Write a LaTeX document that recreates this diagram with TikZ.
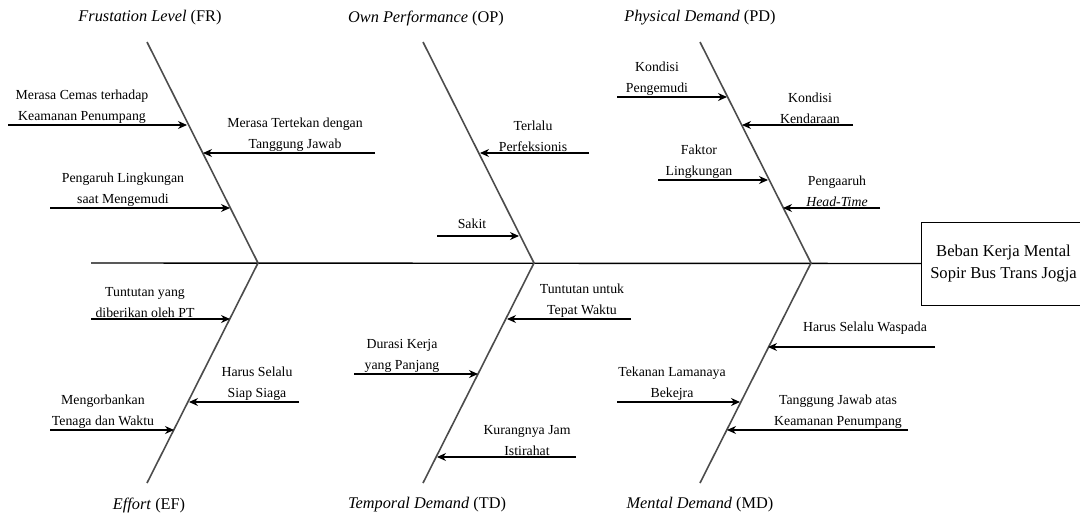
\documentclass[tikz,border=0pt]{standalone}
\usepackage{fontspec}
\setmainfont{Liberation Serif}
\usetikzlibrary{arrows.meta}
\begin{document}
\begin{tikzpicture}
  [x=1pt,y=-1pt,
   every node/.style={inner sep=0pt,align=center,font=\fontsize{13.8}{21}\selectfont},
   bone/.style={line width=1.6pt,black!70},
   cause/.style={line width=1.1pt,-{Stealth[length=9pt,width=8pt]}},
   cat/.style={font=\fontsize{16.3}{19}\selectfont}]
\useasboundingbox (0,0) rectangle (1080,515);
% effect box and spine
\node (eff)[draw,line width=1pt,minimum width=164pt,minimum height=83pt,anchor=west,
  font=\fontsize{16.6}{22}\selectfont] at (921,263.5) {Beban Kerja Mental\\Sopir Bus Trans Jogja};
\coordinate (tail) at (91,263);
\draw[line width=1.4pt] (tail) -- (eff.west);
% bones, top and bottom
\foreach \n/\m/\x in {fr/ef/147,op/td/423,pd/md/700}{
  \coordinate (\n) at (\x,42);
  \coordinate (j\n) at (\x+111,263);
  \coordinate (\m) at (\x,483);
  \draw[bone] (\n) -- (j\n) -- (\m);
}
\node (lfr)[cat] at (150,18) {\textit{Frustation Level} (FR)};
\node (lop)[cat] at (426,18) {\textit{Own Performance} (OP)};
\node (lpd)[cat] at (700,18) {\textit{Physical Demand} (PD)};
\node (lef)[cat] at (149,505) {\textit{Effort} (EF)};
\node (ltd)[cat] at (427,505) {\textit{Temporal Demand} (TD)};
\node (lmd)[cat] at (700,505) {\textit{Mental Demand} (MD)};
% causes: start/end/y/text x/text gap/text
\foreach \s/\e/\y/\tx/\g/\t [count=\i] in {
  8/187/125/82/1/{Merasa Cemas terhadap\\Keamanan Penumpang},
  375/203/153/295/1/{Merasa Tertekan dengan\\Tanggung Jawab},
  50/230/208/123/1/{Pengaruh Lingkungan\\saat Mengemudi},
  589/480/153/533/1/{Terlalu\\Perfeksionis},
  437/519/236/472/7/{Sakit},
  617/727/97/657/1/{Kondisi\\Pengemudi},
  853/742/125/810/1/{Kondisi\\Kendaraan},
  658/768/180/699/1/{Faktor\\Lingkungan},
  880/783/208/837/1/{Pengaaruh\\\textit{Head-Time}},
  91/230/319/145/1/{Tuntutan yang\\diberikan oleh PT},
  299/189/402/257/1/{Harus Selalu\\Siap Siaga},
  50/174/430/103/1/{Mengorbankan\\Tenaga dan Waktu},
  631/507/319/582/1/{Tuntutan untuk\\Tepat Waktu},
  354/478/374/402/1/{Durasi Kerja\\yang Panjang},
  576/437/457/527/1/{Kurangnya Jam\\Istirahat},
  935/768/347/865/12/{Harus Selalu Waspada},
  617/740/402/672/1/{Tekanan Lamanaya\\Bekejra},
  908/727/430/838/1/{Tanggung Jawab atas\\Keamanan Penumpang}}{
  \coordinate (s\i) at (\s,\y);
  \coordinate (e\i) at (\e,\y);
  \draw[cause] (s\i) -- (e\i);
  \node (c\i)[anchor=south] at (\tx,\y-\g) {\t};
}
\end{tikzpicture}
\end{document}
